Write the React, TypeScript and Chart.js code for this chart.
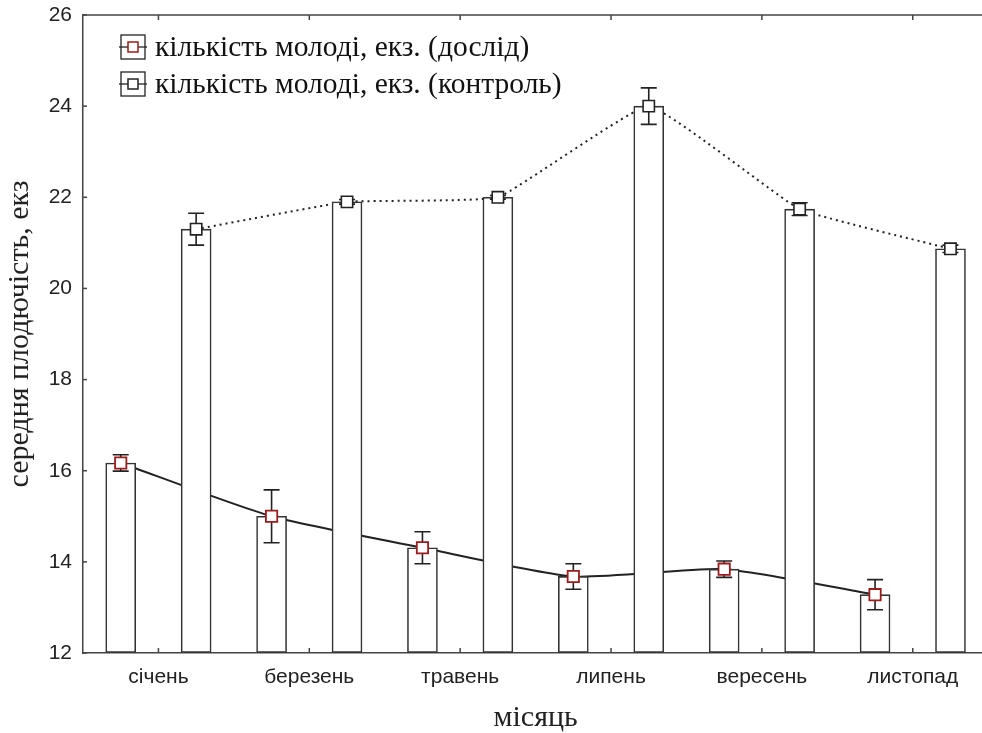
import React, { useEffect, useRef } from "react";
import { Chart, registerables } from "chart.js";

Chart.register(...registerables);

const months = ["січень", "березень", "травень", "липень", "вересень", "листопад"];
const expMeans = [16.17, 15.0, 14.31, 13.68, 13.84, 13.28];
const expErr = [0.18, 0.58, 0.35, 0.28, 0.18, 0.33];
const ctrlMeans = [21.3, 21.9, 22.0, 24.0, 21.74, 20.87];
const ctrlErr = [0.35, 0.05, 0.04, 0.4, 0.14, 0.08];
const yTicks = [12, 14, 16, 18, 20, 22, 24, 26];
const legendLabels = [
  "кількість молоді, екз. (дослід)",
  "кількість молоді, екз. (контроль)",
];
const xTitle = "місяць";
const yTitle = "середня плодючість, екз";

const AXIS = "#444";
const INK = "#222";
const RED = "#9b1c1c";
const SERIF = "'Liberation Serif', 'Times New Roman', serif";
const SANS = "'Liberation Sans', Arial, sans-serif";

const errorMap: Record<number, number[]> = { 4: expErr, 5: ctrlErr };

const expPts = expMeans.map((v, i) => ({ x: i - 0.25, y: v }));
const ctrlPts = ctrlMeans.map((v, i) => ({ x: i + 0.25, y: v }));

const decorPlugin = {
  id: "decor",
  beforeDatasetDraw(chart: any, args: any) {
    const errs = errorMap[args.index];
    if (!errs) return;
    const ctx = chart.ctx;
    const y = chart.scales.y;
    const meta = args.meta;
    ctx.save();
    ctx.strokeStyle = INK;
    ctx.lineWidth = 1.6;
    meta.data.forEach((pt: any, i: number) => {
      const v = (chart.data.datasets[args.index].data[i] as any).y;
      const top = y.getPixelForValue(v + errs[i]);
      const bot = y.getPixelForValue(v - errs[i]);
      const x = pt.x;
      ctx.beginPath();
      ctx.moveTo(x, top);
      ctx.lineTo(x, bot);
      ctx.moveTo(x - 8, top);
      ctx.lineTo(x + 8, top);
      ctx.moveTo(x - 8, bot);
      ctx.lineTo(x + 8, bot);
      ctx.stroke();
    });
    ctx.restore();
  },
  afterDraw(chart: any) {
    const ctx = chart.ctx;
    const { left, right, top, bottom } = chart.chartArea;
    const xs = chart.scales.x;
    const ys = chart.scales.y;
    ctx.save();
    ctx.strokeStyle = AXIS;
    ctx.lineWidth = 1.5;
    ctx.beginPath();
    ctx.moveTo(left, top);
    ctx.lineTo(right, top);
    ctx.stroke();
    months.forEach((_, i) => {
      const px = xs.getPixelForValue(i);
      ctx.beginPath();
      ctx.moveTo(px, top);
      ctx.lineTo(px, top + 5);
      ctx.moveTo(px, bottom);
      ctx.lineTo(px, bottom - 5);
      ctx.stroke();
    });
    yTicks.forEach((v) => {
      const py = ys.getPixelForValue(v);
      ctx.beginPath();
      ctx.moveTo(left, py);
      ctx.lineTo(left + 4, py);
      ctx.stroke();
    });
    const items = [{ color: RED }, { color: INK }];
    items.forEach((it, i) => {
      const cy = 47 + i * 37;
      const bx = 121;
      const bw = 24;
      const bh = 24;
      ctx.strokeStyle = INK;
      ctx.lineWidth = 1.3;
      ctx.strokeRect(bx, cy - bh / 2, bw, bh);
      ctx.beginPath();
      ctx.moveTo(bx - 2, cy);
      ctx.lineTo(bx + bw + 2, cy);
      ctx.stroke();
      ctx.fillStyle = "#fff";
      ctx.fillRect(bx + bw / 2 - 5, cy - 5, 10, 10);
      ctx.strokeStyle = it.color;
      ctx.lineWidth = 1.5;
      ctx.strokeRect(bx + bw / 2 - 5, cy - 5, 10, 10);
      ctx.fillStyle = "#111";
      ctx.font = "29.5px " + SERIF;
      ctx.textAlign = "left";
      ctx.textBaseline = "middle";
      ctx.fillText(legendLabels[i], 155, cy + 1);
    });
    ctx.restore();
  },
};

export default function App() {
  const ref = useRef<HTMLCanvasElement>(null);
  useEffect(() => {
    if (!ref.current) return;
    const barCommon = {
      type: "bar",
      xAxisID: "xl",
      backgroundColor: "#fff",
      borderColor: "#333",
      borderWidth: 1.6,
      borderSkipped: false,
      base: 12,
      grouped: false,
      barThickness: 30,
      order: 2,
    };
    const chart = new Chart(ref.current, {
      type: "bar",
      data: {
        labels: months,
        datasets: [
          {
            type: "line",
            label: "exp line",
            data: expPts,
            xAxisID: "xl",
            borderColor: INK,
            borderWidth: 2,
            pointRadius: 0,
            tension: 0.2,
            fill: false,
            order: 3,
          } as any,
          {
            type: "line",
            label: "ctrl line",
            data: ctrlPts,
            xAxisID: "xl",
            borderColor: INK,
            borderWidth: 2,
            borderDash: [2, 4],
            pointRadius: 0,
            tension: 0.1,
            fill: false,
            order: 3,
          } as any,
          { ...barCommon, label: "exp bars", data: expPts } as any,
          { ...barCommon, label: "ctrl bars", data: ctrlPts } as any,
          {
            type: "scatter",
            label: "exp pts",
            data: expPts,
            xAxisID: "xl",
            pointStyle: "rect",
            pointRadius: 8,
            pointBackgroundColor: "#fff",
            pointBorderColor: RED,
            pointBorderWidth: 1.8,
            showLine: false,
            order: 1,
          } as any,
          {
            type: "scatter",
            label: "ctrl pts",
            data: ctrlPts,
            xAxisID: "xl",
            pointStyle: "rect",
            pointRadius: 8,
            pointBackgroundColor: "#fff",
            pointBorderColor: INK,
            pointBorderWidth: 1.6,
            showLine: false,
            order: 1,
          } as any,
        ],
      },
      options: {
        animation: false,
        responsive: false,
        devicePixelRatio: 1,
        layout: { padding: { top: 15, right: 2, left: 0, bottom: 0 } },
        plugins: {
          legend: { display: false },
          tooltip: { enabled: false },
        },
        scales: {
          x: {
            type: "category",
            offset: true,
            grid: { display: false, drawTicks: false },
            border: { display: true, color: AXIS, width: 1.5 },
            ticks: {
              padding: 12,
              color: INK,
              font: { family: SANS, size: 21 },
              maxRotation: 0,
            },
            title: {
              display: true,
              text: xTitle,
              color: INK,
              font: { family: SERIF, size: 30 },
              padding: { top: 0, bottom: -3 },
            },
            afterFit: (s: any) => {
              s.height = 80;
              s.paddingLeft = 0;
              s.paddingRight = 0;
            },
          },
          xl: {
            type: "linear",
            display: false,
            offset: false,
            grid: { offset: false },
            min: -0.5,
            max: 5.5,
          },
          y: {
            type: "linear",
            min: 12,
            max: 26,
            afterBuildTicks: (s: any) => {
              s.ticks = yTicks.map((v) => ({ value: v }));
            },
            grid: { drawOnChartArea: false, drawTicks: false },
            border: { display: true, color: AXIS, width: 1.5 },
            ticks: {
              padding: 11,
              color: INK,
              font: { family: SANS, size: 21 },
            },
            title: {
              display: true,
              text: yTitle,
              color: INK,
              font: { family: SERIF, size: 30 },
              padding: { top: 2, bottom: 0 },
            },
            afterFit: (s: any) => {
              s.width = 83;
              s.paddingTop = 0;
              s.paddingBottom = 0;
            },
          },
        },
      },
      plugins: [decorPlugin],
    });
    return () => chart.destroy();
  }, []);
  return (
    <div
      style={{
        position: "fixed",
        left: 0,
        top: 0,
        width: 982,
        height: 733,
        overflow: "hidden",
        background: "#fff",
      }}
    >
      <canvas ref={ref} width={998} height={733} style={{ width: 998, height: 733, display: "block" }} />
    </div>
  );
}
